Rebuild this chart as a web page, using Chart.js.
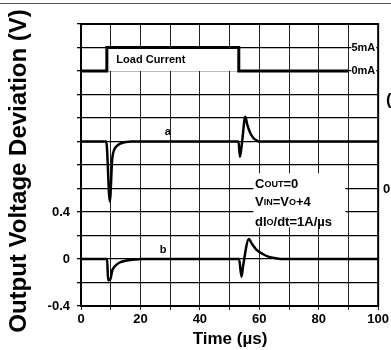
<!DOCTYPE html>
<html>
<head>
<meta charset="utf-8">
<script src="https://cdn.jsdelivr.net/npm/chart.js@4"></script>
<style>
  html, body { margin: 0; padding: 0; background: #fff; }
  #wrap { width: 391px; height: 350px; position: relative; }
</style>
</head>
<body>
<div id="wrap"><canvas id="grafico"></canvas></div>
<script>
// load current step (offset on the voltage axis)
const timeLoad = [0, 8.7, 8.7, 53.1, 53.1, 90];
const loadCurrent = [1.6, 1.6, 1.8, 1.8, 1.6, 1.6];

// trace a (drawn with +1 V offset)
const timeA = [0, 8.5, 9.7, 10.5, 11.2, 12, 13, 15, 17, 53, 53.5, 54.1, 55.3, 56, 57, 58, 59, 60, 100];
const traceA = [1, 1, 0.49, 0.85, 0.93, 0.96, 0.98, 0.995, 1, 1, 0.87, 0.97, 1.21, 1.14, 1.07, 1.03, 1.01, 1, 1];

// trace b
const timeB = [0, 8.8, 9.1, 9.9, 10.5, 11.5, 13, 15, 18, 20, 53.2, 54, 54.6, 56.5, 57.5, 59, 61, 63, 66, 68, 100];
const traceB = [0, 0, -0.18, -0.17, -0.1, -0.06, -0.03, -0.015, -0.005, 0, 0, -0.15, -0.05, 0.17, 0.13, 0.08, 0.045, 0.02, 0.005, 0, 0];

const xTickLabels = [0, 20, 40, 60, 80, 100];
const yTickLabels = [-0.4, 0, 0.4];

function pontos(xs, ys) {
    return xs.map(function (x, i) { return { x: x, y: ys[i] }; });
}

// texts, white boxes and frame
const textos = {
    id: "textos",
    beforeDatasetsDraw: function (chart) {
        const ctx = chart.ctx;
        const xs = chart.scales.x, ys = chart.scales.y;
        ctx.save();
        ctx.fillStyle = "#fff";
        ctx.fillRect(xs.getPixelForValue(58), ys.getPixelForValue(0.73), xs.getPixelForValue(89) - xs.getPixelForValue(58), ys.getPixelForValue(0.27) - ys.getPixelForValue(0.73));
        ctx.fillRect(xs.getPixelForValue(91), ys.getPixelForValue(1.85), xs.getPixelForValue(100) - xs.getPixelForValue(91) - 2, ys.getPixelForValue(1.55) - ys.getPixelForValue(1.85));
        ctx.restore();
    },
    afterDraw: function (chart) {
        const ctx = chart.ctx;
        const a = chart.chartArea;
        const xs = chart.scales.x, ys = chart.scales.y;
        ctx.save();
        ctx.strokeStyle = "#000";
        ctx.lineWidth = 2;
        ctx.strokeRect(a.left, a.top, a.right - a.left, a.bottom - a.top);

        // scan edge line
        ctx.strokeStyle = "#555";
        ctx.lineWidth = 1;
        ctx.beginPath();
        ctx.moveTo(0, 3.5);
        ctx.lineTo(391, 3.5);
        ctx.stroke();

        ctx.fillStyle = "#000";
        ctx.textBaseline = "middle";

        // axis titles
        ctx.font = "bold 17px 'Liberation Sans', Arial, sans-serif";
        ctx.textAlign = "center";
        ctx.fillText("Time (µs)", 230, 339);
        ctx.save();
        ctx.translate(19, 171);
        ctx.rotate(-Math.PI / 2);
        ctx.font = "bold 24px 'Liberation Sans', Arial, sans-serif";
        ctx.fillText("Output Voltage Deviation (V)", 0, 0);
        ctx.restore();

        // labels inside
        ctx.textAlign = "left";
        ctx.font = "bold 11px 'Liberation Sans', Arial, sans-serif";
        ctx.fillText("Load Current", xs.getPixelForValue(11.9), ys.getPixelForValue(1.69));
        ctx.fillText("5mA", xs.getPixelForValue(91), ys.getPixelForValue(1.8));
        ctx.fillText("0mA", xs.getPixelForValue(91), ys.getPixelForValue(1.6));
        ctx.textAlign = "center";
        ctx.fillText("a", xs.getPixelForValue(29.2), ys.getPixelForValue(1.08));
        ctx.fillText("b", xs.getPixelForValue(27.6), ys.getPixelForValue(0.08));

        // conditions, with small subscript parts
        function linha(partes, x, y) {
            ctx.textAlign = "left";
            partes.forEach(function (p) {
                ctx.font = "bold " + (p[1] ? 9 : 13) + "px 'Liberation Sans', Arial, sans-serif";
                ctx.fillText(p[0], x, y + (p[1] ? 1 : 0));
                x += ctx.measureText(p[0]).width;
            });
        }
        linha([["C", 0], ["OUT", 1], ["=0", 0]], 255, 184);
        linha([["V", 0], ["IN", 1], ["=V", 0], ["O", 1], ["+4", 0]], 255, 202);
        linha([["dI", 0], ["O", 1], ["/dt=1A/µs", 0]], 255, 222);

        // clipped right-hand labels
        ctx.font = "bold 13px 'Liberation Sans', Arial, sans-serif";
        ctx.fillText("0", 383, 189);
        ctx.font = "bold 17px 'Liberation Sans', Arial, sans-serif";
        ctx.fillText("(", 386, 100);
        ctx.restore();
    }
};

const ctx = document.getElementById("grafico").getContext("2d");
new Chart(ctx, {
    type: "line",
    data: {
        datasets: [{
            data: pontos(timeLoad, loadCurrent),
            borderColor: "#000",
            borderWidth: 3,
            backgroundColor: "#fff",
            fill: { value: 1.6 },
            pointRadius: 0,
            tension: 0
        }, {
            data: pontos(timeA, traceA),
            borderColor: "#000",
            borderWidth: 2.5,
            pointRadius: 0,
            cubicInterpolationMode: "monotone"
        }, {
            data: pontos(timeB, traceB),
            borderColor: "#000",
            borderWidth: 2.5,
            pointRadius: 0,
            cubicInterpolationMode: "monotone"
        }]
    },
    options: {
        responsive: true,
        maintainAspectRatio: false,
        animation: false,
        layout: { padding: { top: 24, right: 12, left: 0, bottom: 0 } },
        plugins: { legend: { display: false }, tooltip: { enabled: false } },
        scales: {
            x: {
                type: "linear",
                min: 0,
                max: 100,
                afterFit: function (s) { s.height = 44; },
                ticks: {
                    stepSize: 10,
                    maxRotation: 0,
                    padding: 2,
                    color: "#000",
                    font: { family: "'Liberation Sans', Arial, sans-serif", size: 13, weight: "bold" },
                    callback: function (v) {
                        return xTickLabels.indexOf(Math.round(v)) >= 0 ? String(Math.round(v)) : "";
                    }
                },
                grid: { color: "#222", lineWidth: 1, tickLength: 4 },
                border: { color: "#000", width: 2 }
            },
            y: {
                min: -0.4,
                max: 2.0,
                afterFit: function (s) { s.width = 81; },
                ticks: {
                    stepSize: 0.2,
                    padding: 7,
                    color: "#000",
                    font: { family: "'Liberation Sans', Arial, sans-serif", size: 13, weight: "bold" },
                    callback: function (v) {
                        const r = Math.round(v * 10) / 10;
                        return yTickLabels.indexOf(r) >= 0 ? String(r) : "";
                    }
                },
                grid: { color: "#000", lineWidth: 1.3, tickLength: 4 },
                border: { color: "#000", width: 2 }
            }
        }
    },
    plugins: [textos]
});
</script>
</body>
</html>
